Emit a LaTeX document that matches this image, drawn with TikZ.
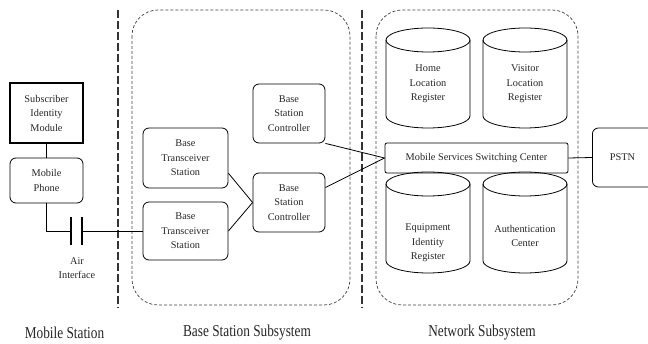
\documentclass[tikz,border=0pt]{standalone}
\usepackage{fontspec}
\setmainfont{Liberation Serif}
\usetikzlibrary{calc}
\newcommand\boxfont{\fontsize{10.3}{14.5}\selectfont}
\newcommand\labfont{\fontsize{13.3}{16}\selectfont}
\newcommand\tallText[1]{\scalebox{1}[1.25]{#1}}
\begin{document}
\begin{tikzpicture}[x=1pt,y=-1pt,
  every node/.style={inner sep=0pt, align=center, font=\boxfont, text=black!85},
  rbox/.style={draw, rounded corners=6pt, line width=0.8pt},
  sqbox/.style={draw, line width=1.2pt},
  msbox/.style={draw, rounded corners=2pt, line width=0.8pt},
  group/.style={draw=black!75, dash pattern=on 3pt off 2pt, line width=0.7pt, rounded corners=26pt},
  divider/.style={draw=black!80, dash pattern=on 8pt off 3pt, line width=1.3pt},
  conn/.style={draw, line width=0.8pt},
  cyl/.style={draw, line width=0.8pt},
  sublabel/.style={font=\labfont}]
\useasboundingbox (0,0) rectangle (648,344);
\clip (0,0) rectangle (648,344);

% dividers
\coordinate (d1t) at (118,10); \coordinate (d1b) at (118,308);
\coordinate (d2t) at (362,10); \coordinate (d2b) at (362,308);
\draw[divider] (d1t) -- (d1b);
\draw[divider] (d2t) -- (d2b);

% subsystem groups
\draw[group] (132,10) rectangle (350,305);
\draw[group] (376,10) rectangle (578,305);

% mobile station
\node[sqbox, minimum width=73pt, minimum height=60pt] (sim) at (46.5,113) {Subscriber\\Identity\\Module};
\node[rbox, minimum width=73pt, minimum height=45pt] (phone) at (46.5,180.5) {Mobile\\Phone};
\draw[conn] (sim) -- (phone);
\coordinate (c1) at (71,231);
\coordinate (c2) at (82,231);
\draw[conn] (phone.south) |- (c1);
\draw[line width=1.5pt] (71,217) -- (71,245);
\draw[line width=1.5pt] (82,217) -- (82,245);
\node (air) at (77,268) {Air\\Interface};

% base station subsystem
\node[rbox, minimum width=85pt, minimum height=60pt] (bts1) at (185.5,158) {Base\\Transceiver\\Station};
\node[rbox, minimum width=85pt, minimum height=58pt] (bts2) at (185.5,231) {Base\\Transceiver\\Station};
\node[rbox, minimum width=72pt, minimum height=59pt] (bsc1) at (289,113.5) {Base\\Station\\Controller};
\node[rbox, minimum width=72pt, minimum height=59pt] (bsc2) at (289,202.5) {Base\\Station\\Controller};
\draw[conn] (c2) -- (bts2.west);
\draw[conn] ($(bts1.east)!0.5!(bts1.south east)$) -- (bsc2.west);
\draw[conn] (bts2.east) -- (bsc2.west);

% network subsystem
\node[msbox, minimum width=183pt, minimum height=30pt] (msc) at (476.5,158) {Mobile Services Switching Center};
\node[rbox, minimum width=68pt, minimum height=59pt, anchor=west] (pstn) at (592,157.5) {\hspace*{-8pt}PSTN};
\draw[conn] (bsc1.south east) -- (msc.west);
\draw[conn] ($(bsc2.east)!0.5!(bsc2.north east)$) -- (msc.west);
\draw[conn] (msc.east) -- (pstn.west);

% cylinders
\foreach \cx/\ty/\by in {428/40/116, 525/40/116, 428/184/261, 525/184/261}{
  \draw[cyl] (\cx-42,\ty) -- (\cx-42,\by) arc[start angle=180, end angle=360, x radius=42pt, y radius=12pt] -- (\cx+42,\ty);
  \draw[cyl] (\cx,\ty) ellipse [x radius=42pt, y radius=12pt];
}
\node (hlr) at (428,84) {Home\\Location\\Register};
\node (vlr) at (525,84) {Visitor\\Location\\Register};
\node (eir) at (428,243) {Equipment\\Identity\\Register};
\node (auc) at (525,236) {Authentication\\Center};

% subsystem labels
\node[sublabel] (lms) at (64.5,333) {\tallText{Mobile Station}};
\node[sublabel] (lbss) at (247,333) {\tallText{Base Station Subsystem}};
\node[sublabel] (lnss) at (482,333) {\tallText{Network Subsystem}};
\end{tikzpicture}
\end{document}
